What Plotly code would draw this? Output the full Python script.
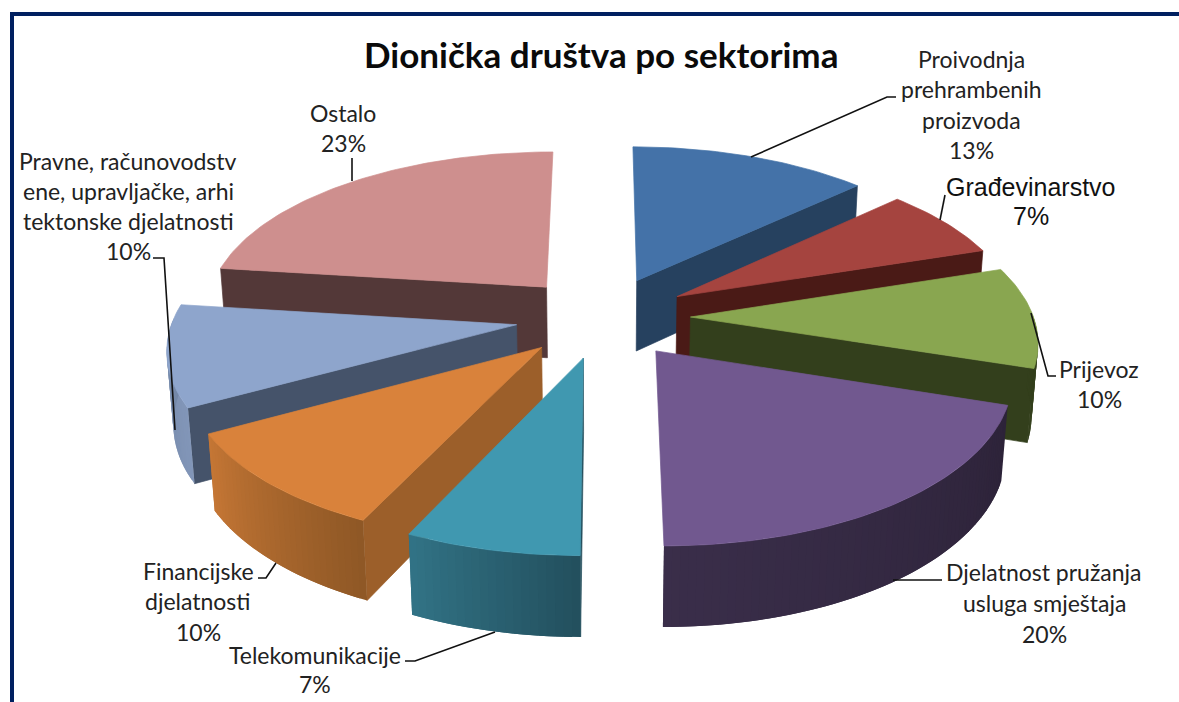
import math
import plotly.graph_objects as go

# --- data ---
categories = ["Proivodnja prehrambenih proizvoda", "Građevinarstvo", "Prijevoz",
              "Djelatnost pružanja usluga smještaja", "Telekomunikacije",
              "Financijske djelatnosti", "Pravne, računovodstvene, upravljačke, arhitektonske djelatnosti",
              "Ostalo"]
values = [13, 7, 10, 20, 7, 10, 10, 23]
title_text = "Dionička društva po sektorima"

# --- styles ---
top_colors = ["#4472A8", "#A5443F", "#89A650", "#71588F", "#4098B0", "#D9823B", "#8EA5CC", "#CE8F8E"]
wall_colors = ["#26415F", "#4A1A16", "#333F1C", "#2D2339", "#26505E", "#9C5F2A", "#45536A", "#533838"]
rim_start = ["#26415F", "#4A1A16", "#333F1C", "#2D2339", "#23505E", "#8F5826", "#8296B8", "#533838"]
rim_end = ["#26415F", "#4A1A16", "#333F1C", "#3A2E4A", "#327487", "#C67735", "#6F83A3", "#533838"]
draw_order = [0, 7, 1, 2, 6, 5, 3, 4]

CX, CY, AX, BY, DEPTH, PERSP, EXPLODE = 603, 317, 343, 160, 73, 0.13, 0.255
DEPTH_PERSP = 0.015

label_lines = [
    (971, 59, "Proivodnja"), (971, 89, "prehrambenih"), (971, 120, "proizvoda"), (971, 150, "13%"),
    (1099, 369, "Prijevoz"), (1099, 399, "10%"),
    (1044, 572, "Djelatnost pružanja"), (1044, 603, "usluga smještaja"), (1044, 634, "20%"),
    (315, 655, "Telekomunikacije"), (315, 684, "7%"),
    (198, 571, "Financijske"), (198, 601, "djelatnosti"), (198, 632, "10%"),
    (128, 161, "Pravne, računovodstv"), (128, 191, "ene, upravljačke, arhi"),
    (128, 221, "tektonske djelatnosti"), (128, 251, "10%"),
    (343, 113, "Ostalo"), (343, 143, "23%"),
]
arial_lines = [(1031, 187, "Građevinarstvo"), (1031, 216, "7%")]
leaders = [
    [(751, 157), (887, 97), (896, 97)],
    [(940, 220), (945, 195)],
    [(1031, 313), (1048, 376), (1056, 376)],
    [(893, 580), (942, 580)],
    [(495, 632), (415, 661), (405, 661)],
    [(276, 563), (266, 578), (258, 578)],
    [(175, 430), (164, 258), (153, 258)],
    [(352, 181), (352, 158)],
]


def project(x, y, z):
    w = 1 / (1 - PERSP * y + DEPTH_PERSP * z)
    return CX + AX * x * w, CY + (BY * y + DEPTH * z) * w


def mix(c1, c2, t):
    a = [int(c1[i:i + 2], 16) for i in (1, 3, 5)]
    b = [int(c2[i:i + 2], 16) for i in (1, 3, 5)]
    return "#%02x%02x%02x" % tuple(round(p + (q - p) * t) for p, q in zip(a, b))


fig = go.Figure()


def poly(points, color, width=0.7):
    fig.add_trace(go.Scatter(
        x=[p[0] for p in points] + [points[0][0]],
        y=[p[1] for p in points] + [points[0][1]],
        mode="lines", fill="toself", fillcolor=color,
        line=dict(color=color, width=width), hoverinfo="skip", showlegend=False))


total = sum(values)
spans = []
acc = 0
for v in values:
    spans.append((acc / total * 2 * math.pi, (acc + v) / total * 2 * math.pi))
    acc += v

for i in draw_order:
    a0, a1 = spans[i]
    mid = (a0 + a1) / 2
    ox, oy = EXPLODE * math.sin(mid), -EXPLODE * math.cos(mid)
    n = max(8, int((a1 - a0) / 0.02))
    angs = [a0 + (a1 - a0) * k / n for k in range(n + 1)]
    rim = [(ox + math.sin(t), oy - math.cos(t)) for t in angs]

    # radial wall: only the one facing the viewer
    edge = rim[-1] if mid < math.pi else rim[0]
    if i != 3:
        poly([project(ox, oy, 0), project(edge[0], edge[1], 0),
              project(edge[0], edge[1], 1), project(ox, oy, 1)], wall_colors[i])

    # outer wall, drawn in overlapping strips so that no seams show
    for k in range(n):
        t = (angs[k] + angs[k + 1]) / 2
        if -math.cos(t) <= -0.02:
            continue
        p, q = rim[k], rim[min(k + 2, n)]
        poly([project(p[0], p[1], 0), project(q[0], q[1], 0),
              project(q[0], q[1], 1), project(p[0], p[1], 1)],
             mix(rim_start[i], rim_end[i], k / n), width=0)

    # top face
    poly([project(ox, oy, 0)] + [project(p[0], p[1], 0) for p in rim], top_colors[i])

shapes = [
    dict(type="line", x0=10, x1=1179, y0=14, y1=14, line=dict(color="#002060", width=4)),
    dict(type="line", x0=12, x1=12, y0=12, y1=702, line=dict(color="#002060", width=4)),
]
for pts in leaders:
    path = "M " + " L ".join(f"{x},{y}" for x, y in pts)
    shapes.append(dict(type="path", path=path, line=dict(color="#111111", width=1.6)))

annotations = [dict(x=601, y=54, text=f"<b>{title_text}</b>", showarrow=False,
                    font=dict(family="Lato", size=35, color="#0a0a0a"))]
for x, y, t in label_lines:
    annotations.append(dict(x=x, y=y, text=t, showarrow=False,
                            font=dict(family="Lato", size=23, color="#222222")))
for x, y, t in arial_lines:
    annotations.append(dict(x=x, y=y, text=t, showarrow=False,
                            font=dict(family="Liberation Sans", size=25, color="#111111")))

fig.update_layout(
    width=1179, height=702, margin=dict(l=0, r=0, t=0, b=0),
    paper_bgcolor="white", plot_bgcolor="white", showlegend=False,
    xaxis=dict(range=[0, 1179], visible=False, fixedrange=True),
    yaxis=dict(range=[702, 0], visible=False, fixedrange=True),
    shapes=shapes, annotations=annotations)

fig.write_html("out.html", config=dict(displayModeBar=False),
               post_script="document.body.style.margin='0';")
